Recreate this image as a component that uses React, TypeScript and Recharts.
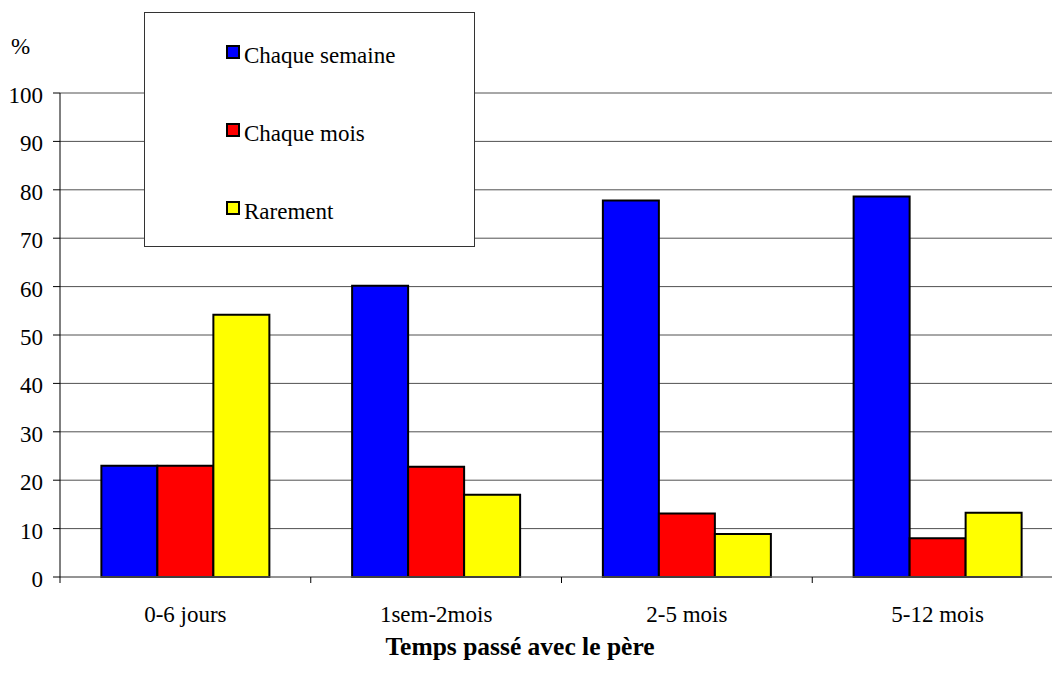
import { BarChart, Bar, CartesianGrid, XAxis, YAxis, Legend } from "recharts";

const categories = ["0-6 jours", "1sem-2mois", "2-5 mois", "5-12 mois"];
const chaqueSemaine = [23, 60.2, 77.8, 78.6];
const chaqueMois = [23, 22.8, 13.1, 8];
const rarement = [54.2, 17, 8.9, 13.3];
const yTicks = [0, 10, 20, 30, 40, 50, 60, 70, 80, 90, 100];

const series = [
  { key: "semaine", name: "Chaque semaine", color: "#0000FF" },
  { key: "mois", name: "Chaque mois", color: "#FF0000" },
  { key: "rare", name: "Rarement", color: "#FFFF00" },
];

const data = categories.map((name, i) => ({
  name,
  semaine: chaqueSemaine[i],
  mois: chaqueMois[i],
  rare: rarement[i],
}));

const FONT = "'Liberation Serif', 'Times New Roman', serif";

const YTick = (props: any) => {
  const { x, y, payload } = props;
  return (
    <text x={x} y={y + 10} textAnchor="end" fontSize={23} fontFamily={FONT} fill="#000">
      {payload.value}
    </text>
  );
};

const XTick = (props: any) => {
  const { x, y, payload, width, visibleTicksCount } = props;
  const half = width / visibleTicksCount / 2;
  return (
    <g>
      <line x1={x - half} x2={x - half} y1={y} y2={y + 6} stroke="#000" strokeWidth={1} />
      <text x={x} y={y + 45} textAnchor="middle" fontSize={23} fontFamily={FONT} fill="#000">
        {payload.value}
      </text>
    </g>
  );
};

// legend keeps the series order (recharts 3 sorts payload by name)
const LegendBox = () => (
  <div
    style={{
      width: 329,
      height: 233,
      border: "1px solid #333",
      background: "#fff",
      position: "relative",
      fontFamily: FONT,
      fontSize: 23,
    }}
  >
    {series.map((s, i) => (
      <div
        key={s.key}
        style={{ position: "absolute", left: 81, top: 30 + i * 78, display: "flex", alignItems: "flex-start" }}
      >
        <span
          style={{
            display: "inline-block",
            width: 10,
            height: 10,
            background: s.color,
            border: "2px solid #000",
            marginTop: 2,
          }}
        />
        <span style={{ marginLeft: 4, lineHeight: "26px", color: "#000" }}>{s.name}</span>
      </div>
    ))}
  </div>
);

export default function App() {
  return (
    <div
      style={{
        position: "fixed",
        left: 0,
        top: 0,
        width: 1052,
        height: 683,
        overflow: "hidden",
        background: "#fff",
      }}
    >
      <div
        style={{
          position: "absolute",
          left: 11,
          top: 34,
          fontFamily: FONT,
          fontSize: 23,
          color: "#000",
        }}
      >
        %
      </div>
      <BarChart
        width={1080}
        height={683}
        data={data}
        margin={{ top: 93, right: 17, left: 0, bottom: 76 }}
        barCategoryGap="16.5%"
        barGap={0}
      >
        <CartesianGrid vertical={false} stroke="#333" strokeOpacity={0.85} />
        <XAxis
          dataKey="name"
          stroke="#808080"
          tickLine={false}
          tickSize={0}
          tickMargin={0}
          tick={<XTick />}
          interval={0}
        />
        <YAxis
          width={60}
          domain={[0, 100]}
          ticks={yTicks}
          interval={0}
          stroke="#000"
          tickSize={7}
          tickMargin={10}
          tick={<YTick />}
        />
        <Legend
          layout="horizontal"
          verticalAlign="middle"
          align="center"
          content={<LegendBox />}
          wrapperStyle={{ position: "absolute", left: 144, top: 12, width: "auto", height: "auto" }}
        />
        {series.map((s) => (
          <Bar
            key={s.key}
            dataKey={s.key}
            name={s.name}
            fill={s.color}
            stroke="#000"
            strokeWidth={2}
            isAnimationActive={false}
          />
        ))}
      </BarChart>
      <div
        style={{
          position: "absolute",
          left: 0,
          width: 1040,
          top: 632,
          textAlign: "center",
          fontFamily: FONT,
          fontSize: 25.5,
          fontWeight: "bold",
          color: "#000",
        }}
      >
        Temps passé avec le père
      </div>
    </div>
  );
}
